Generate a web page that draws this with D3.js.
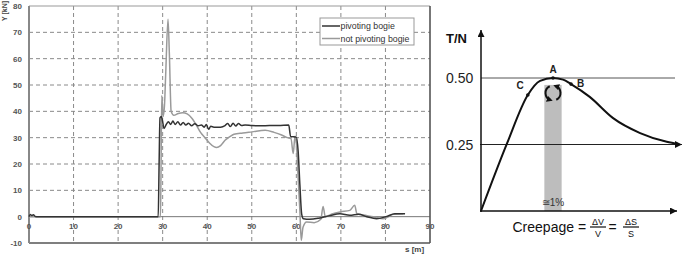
<!DOCTYPE html>
<html>
<head>
<meta charset="utf-8">
<script src="https://cdn.jsdelivr.net/npm/d3@7"></script>
<style>
  body { margin: 0; background: #fff; }
  svg { display: block; font-family: "Liberation Sans", Arial, sans-serif; }
</style>
</head>
<body>
<svg id="chart" width="685" height="261"></svg>
<script>
// left chart: lateral force Y over distance s
var xTicks = [0, 10, 20, 30, 40, 50, 60, 70, 80, 90];
var yTicks = [-10, 0, 10, 20, 30, 40, 50, 60, 70, 80];
var seriesNames = ["pivoting bogie", "not pivoting bogie"];

var sPivot = [0, 0.3, 0.6, 1.0, 1.4, 2, 29.0, 29.2, 29.4, 29.7, 30.0, 30.3, 30.8, 31.3, 31.8, 32.3, 32.8, 33.4,
  34.0, 34.6, 35.2, 35.8, 36.5, 37.2, 38.0, 38.7, 39.3, 39.8, 40.3, 40.8, 41.5, 43, 44, 44.6, 45.2, 45.8,
  46.4, 47.0, 47.7, 48.5, 50, 52, 54, 56, 58.3, 58.7, 60.0, 60.4, 60.8, 61.2, 61.6, 63, 65, 67.5, 69.8,
  72, 74, 75.8, 78, 80.3, 82.1, 84.4];
var yPivot = [0, 0.8, 0.4, 0.7, 0.1, 0, 0, 20, 37.5, 38, 36, 33.5, 35, 36, 35, 36.3, 35, 36,
  34.8, 35.8, 34.8, 35.5, 34.5, 35.3, 34.5, 34.8, 34.0, 35, 33.2, 34.3, 34, 34, 34.6, 35.4, 34.2, 35.5,
  34.4, 35.4, 34.6, 34.8, 34.6, 34.5, 34.6, 34.6, 34.8, 30.5, 30.2, 25, 12, 1, -0.8, -1, -0.6, 0.4, 1.1,
  0.5, 0.9, 0, -0.8, 0.1, 1.1, 1.1];

var sNot = [0, 29.5, 29.6, 29.8, 30.1, 30.4, 30.7, 31.2, 31.5, 31.9, 32.5, 33.5, 34.5, 35.5, 36.5, 37.5,
  38.5, 39.5, 40.5, 41.5, 42.1, 43, 44, 45, 46, 48, 50, 53, 55, 56.7, 58, 58.8, 59.3, 59.7, 60.0, 60.4,
  60.8, 61.1, 61.5, 62.3, 64, 65.5, 66, 66.5, 68, 69.8, 72, 73.1, 73.6, 75, 77.3, 79.5, 81.8, 84];
var yNot = [0, 0, 12, 46, 38, 42, 55, 75, 62, 40, 38.5, 39.2, 39.5, 39, 37.5, 35,
  32, 30, 28, 26.6, 26.3, 27, 29, 30.3, 31.3, 31.8, 32.2, 32.8, 32, 31, 30, 29.6, 24, 30.5, 28, 15,
  2, -9, -4, -2, -2.3, -1, 3.9, 0, 1, 1.8, 2.4, 4.3, 1.1, 0.6, 0, -0.8, 0.9, 1.1];

// right chart: adhesion T/N over creepage (%)
var curveCreep = [0, 0.36, 0.65, 0.82, 1.0, 1.14, 1.25, 1.51, 1.83, 2.21, 2.58, 2.75];
var curveTN = [0, 0.253, 0.436, 0.489, 0.5, 0.494, 0.477, 0.429, 0.35, 0.293, 0.26, 0.251];
var tnTicks = [0.25, 0.5];
var pointLabels = ["C", "A", "B"];
var pointCreep = [0.65, 1.0, 1.25];
var pointTN = [0.436, 0.5, 0.477];
var band = [0.88, 1.12];

var svg = d3.select("#chart");
var defs = svg.append("defs");
defs.append("marker").attr("id", "arr").attr("viewBox", "0 0 10 10")
    .attr("refX", 10).attr("refY", 5).attr("markerWidth", 10).attr("markerHeight", 7)
    .attr("markerUnits", "userSpaceOnUse").attr("orient", "auto")
    .append("path").attr("d", "M0,0L10,5L0,10z").attr("fill", "#111");
defs.append("marker").attr("id", "arrs").attr("viewBox", "0 0 10 10")
    .attr("refX", 6).attr("refY", 5).attr("markerWidth", 6).attr("markerHeight", 6)
    .attr("markerUnits", "userSpaceOnUse").attr("orient", "auto")
    .append("path").attr("d", "M0,0L10,5L0,10z").attr("fill", "#111");

// ---------- left chart ----------
var x = d3.scaleLinear().domain([0, 90]).range([29, 430]);
var y = d3.scaleLinear().domain([-10, 80]).range([243, 6]);
var g = svg.append("g");

g.selectAll("line.vgrid").data(xTicks.slice(1, -1)).enter().append("line")
    .attr("x1", function(d) { return x(d); }).attr("x2", function(d) { return x(d); })
    .attr("y1", y(80)).attr("y2", y(-10))
    .attr("stroke", "#8a8a8a").attr("stroke-dasharray", "4,3");
g.selectAll("line.hgrid").data(yTicks.filter(function(d) { return d !== 0 && d !== -10 && d !== 80; }))
    .enter().append("line")
    .attr("x1", x(0)).attr("x2", x(90))
    .attr("y1", function(d) { return y(d); }).attr("y2", function(d) { return y(d); })
    .attr("stroke", "#8a8a8a").attr("stroke-dasharray", "4,3");

g.append("line").attr("x1", x(0)).attr("x2", x(90)).attr("y1", y(0)).attr("y2", y(0))
    .attr("stroke", "#777").attr("stroke-width", 1);
g.append("line").attr("x1", x(0)).attr("x2", x(90)).attr("y1", y(80)).attr("y2", y(80))
    .attr("stroke", "#999").attr("stroke-width", 1);
g.append("line").attr("x1", x(0)).attr("x2", x(90)).attr("y1", y(-10)).attr("y2", y(-10))
    .attr("stroke", "#555").attr("stroke-width", 1.6);
g.append("line").attr("x1", x(90)).attr("x2", x(90)).attr("y1", y(80)).attr("y2", y(-10))
    .attr("stroke", "#555").attr("stroke-width", 1.6);
g.append("line").attr("x1", x(0)).attr("x2", x(0)).attr("y1", y(80)).attr("y2", y(-10))
    .attr("stroke", "#888").attr("stroke-width", 2);

g.selectAll("text.yt").data(yTicks).enter().append("text")
    .attr("x", 22).attr("y", function(d) { return y(d) + 3; })
    .attr("text-anchor", "end").attr("font-size", 8).attr("font-weight", "bold").attr("fill", "#555")
    .text(function(d) { return d; });
g.selectAll("text.xt").data(xTicks).enter().append("text")
    .attr("x", function(d) { return x(d); }).attr("y", y(0) + 12)
    .attr("text-anchor", "middle").attr("font-size", 8).attr("font-weight", "bold").attr("fill", "#555")
    .text(function(d) { return d; });

g.append("text").attr("transform", "translate(7,11) rotate(-90)")
    .attr("text-anchor", "middle").attr("font-size", 7).attr("font-weight", "bold").attr("fill", "#444")
    .text("Y [kN]");
g.append("text").attr("x", 405).attr("y", 252)
    .attr("font-size", 8).attr("font-weight", "bold").attr("fill", "#444")
    .text("s [m]");

var line = d3.line()
    .x(function(d) { return x(d[0]); })
    .y(function(d) { return y(d[1]); })
    .curve(d3.curveMonotoneX);

g.append("path").datum(d3.zip(sNot, yNot)).attr("d", line)
    .attr("fill", "none").attr("stroke", "#9a9a9a").attr("stroke-width", 1.5);
g.append("path").datum(d3.zip(sPivot, yPivot)).attr("d", line)
    .attr("fill", "none").attr("stroke", "#333").attr("stroke-width", 1.5);

// legend
var lg = g.append("g").attr("transform", "translate(320,18)");
lg.append("rect").attr("width", 94).attr("height", 27)
    .attr("fill", "#fff").attr("stroke", "#999").attr("stroke-width", 1);
var legendColors = ["#333", "#9a9a9a"];
seriesNames.forEach(function(name, i) {
    var ly = 8 + i * 12.5;
    lg.append("line").attr("x1", 2).attr("x2", 20).attr("y1", ly).attr("y2", ly)
        .attr("stroke", legendColors[i]).attr("stroke-width", 1.5);
    lg.append("text").attr("x", 20.5).attr("y", ly + 3)
        .attr("font-size", 8.8).attr("fill", "#333").text(name);
});

// ---------- right chart ----------
var xr = d3.scaleLinear().domain([0, 1]).range([481, 553]);
var yr = d3.scaleLinear().domain([0, 0.5]).range([211, 78]);
var r = svg.append("g");

r.append("rect").attr("x", xr(band[0])).attr("width", xr(band[1]) - xr(band[0]))
    .attr("y", yr(0.474)).attr("height", yr(0) - yr(0.474))
    .attr("fill", "#bdbdbd");

r.append("line").attr("x1", xr(0)).attr("x2", 675).attr("y1", yr(0.5)).attr("y2", yr(0.5))
    .attr("stroke", "#555").attr("stroke-width", 1);
r.append("line").attr("x1", xr(0) - 1).attr("x2", 682).attr("y1", yr(0.25)).attr("y2", yr(0.25))
    .attr("stroke", "#222").attr("stroke-width", 1).attr("marker-end", "url(#arr)");

r.append("line").attr("x1", xr(0)).attr("x2", xr(0)).attr("y1", yr(0) + 1).attr("y2", 30)
    .attr("stroke", "#111").attr("stroke-width", 1.5).attr("marker-end", "url(#arr)");
r.append("line").attr("x1", xr(0) - 1).attr("x2", 677).attr("y1", yr(0)).attr("y2", yr(0))
    .attr("stroke", "#111").attr("stroke-width", 1.5).attr("marker-end", "url(#arr)");

r.selectAll("text.tn").data(tnTicks).enter().append("text")
    .attr("x", 446).attr("y", function(d) { return yr(d) + 5; })
    .attr("font-size", 14).attr("fill", "#222")
    .text(function(d) { return d3.format(".2f")(d); });
r.append("text").attr("x", 446).attr("y", 43)
    .attr("font-size", 13).attr("font-weight", "bold").attr("fill", "#111").text("T/N");

var rline = d3.line()
    .x(function(d) { return xr(d[0]); })
    .y(function(d) { return yr(d[1]); })
    .curve(d3.curveMonotoneX);
r.append("path").datum(d3.zip(curveCreep, curveTN)).attr("d", rline)
    .attr("fill", "none").attr("stroke", "#111").attr("stroke-width", 2);

var labelOffsets = [[-4, -6], [0, -5], [6, 3]];
pointLabels.forEach(function(lbl, i) {
    r.append("circle").attr("cx", xr(pointCreep[i])).attr("cy", yr(pointTN[i]))
        .attr("r", 1.8).attr("fill", "#111");
    r.append("text").attr("x", xr(pointCreep[i]) + labelOffsets[i][0])
        .attr("y", yr(pointTN[i]) + labelOffsets[i][1])
        .attr("text-anchor", i === 0 ? "end" : (i === 1 ? "middle" : "start"))
        .attr("font-size", 10).attr("font-weight", "bold").attr("fill", "#222").text(lbl);
});

// circular arrows under A
var cx0 = xr(1.0), cy0 = yr(0.5) + 15, rad = 7.5;
var p1 = d3.path();
p1.arc(cx0, cy0, rad, -Math.PI / 2 - 0.45, Math.PI / 2 + 0.35 - 2 * Math.PI, true);
var p2 = d3.path();
p2.arc(cx0, cy0, rad, Math.PI / 2 - 0.45, -Math.PI / 2 + 0.35, true);
[p1, p2].forEach(function(p) {
    r.append("path").attr("d", p.toString()).attr("fill", "none")
        .attr("stroke", "#111").attr("stroke-width", 2).attr("marker-end", "url(#arrs)");
});

r.append("text").attr("x", xr(1.0)).attr("y", 206).attr("text-anchor", "middle")
    .attr("font-size", 10).attr("fill", "#333").text("≅1%");

// Creepage = ΔV/V = ΔS/S
var ft = r.append("g").attr("fill", "#111");
ft.append("text").attr("x", 512.5).attr("y", 232).attr("font-size", 14).text("Creepage =");
ft.append("text").attr("x", 608.5).attr("y", 232).attr("font-size", 14).text("=");
[["ΔV", "V", 598], ["ΔS", "S", 631]].forEach(function(f) {
    ft.append("text").attr("x", f[2]).attr("y", 224.5).attr("text-anchor", "middle")
        .attr("font-size", 9).text(f[0]);
    ft.append("line").attr("x1", f[2] - 8).attr("x2", f[2] + 8).attr("y1", 227).attr("y2", 227)
        .attr("stroke", "#111").attr("stroke-width", 1.2);
    ft.append("text").attr("x", f[2]).attr("y", 237).attr("text-anchor", "middle")
        .attr("font-size", 9).text(f[1]);
});
</script>
</body>
</html>
